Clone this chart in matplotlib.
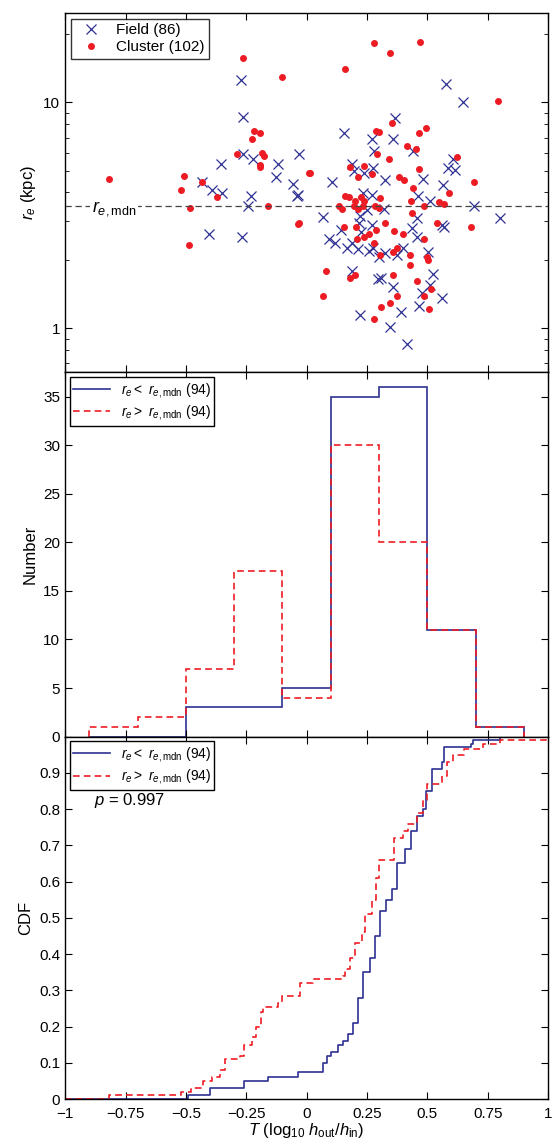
import matplotlib
matplotlib.use('Agg')
import matplotlib.pyplot as plt
import numpy as np
from matplotlib.ticker import NullFormatter

plt.rcParams['font.family'] = ['Liberation Sans', 'DejaVu Sans']
plt.rcParams['mathtext.fontset'] = 'custom'
plt.rcParams['mathtext.rm'] = 'Liberation Sans'
plt.rcParams['mathtext.it'] = 'Liberation Sans:italic'

BLUE = '#2e3192'
RED = '#ed1c24'

# ---- scatter data ----
field_T = [-0.271, -0.263, -0.263, -0.222, -0.354, -0.433, -0.391, -0.35, -0.23, -0.242, -0.404, -0.267,
           -0.118, -0.126, -0.056, -0.039, -0.031,
           0.578, 0.648, 0.366, 0.155, 0.27, 0.358, 0.28, 0.441, 0.188, 0.197, 0.238, 0.275, 0.607, 0.586,
           0.615, 0.325, 0.482, 0.106, -0.035, 0.565, 0.234, 0.271, 0.462, 0.511, 0.321, 0.25, 0.694, 0.801,
           0.068, 0.222, 0.217, 0.457, 0.271, 0.561, 0.57, 0.143, 0.437, 0.226, 0.093, 0.118, 0.188, 0.457,
           0.168, 0.213, 0.259, 0.275, 0.30, 0.325, 0.375, 0.40, 0.503, 0.524, 0.188, 0.296, 0.308, 0.358,
           0.478, 0.511, 0.561, 0.466, 0.222, 0.391, 0.346, 0.416]
field_re = [12.6, 8.6, 5.9, 5.65, 5.37, 4.47, 4.12, 3.97, 3.84, 3.47, 2.63, 2.55,
            5.37, 4.66, 4.34, 3.84, 5.9,
            12.1, 10.1, 8.5, 7.3, 6.9, 6.9, 6.1, 6.1, 5.37, 5.0, 4.9, 5.15, 5.6, 5.15,
            5.05, 4.52, 4.57, 4.43, 3.88, 4.3, 3.96, 3.88, 3.84, 3.65, 3.39, 3.33, 3.5, 3.07,
            3.1, 3.16, 2.94, 3.07, 2.86, 2.86, 2.8, 2.74, 2.77, 2.66, 2.48, 2.38, 2.4, 2.53,
            2.26, 2.24, 2.21, 2.28, 2.08, 2.15, 2.12, 2.28, 2.17, 1.75, 1.79, 1.66, 1.68, 1.53,
            1.44, 1.55, 1.36, 1.26, 1.15, 1.18, 1.02, 0.85]
cluster_T = [-0.818, -0.263, -0.10, -0.507, -0.519, -0.482, -0.486, -0.433, -0.371, -0.288, -0.217, -0.226,
             -0.193, -0.184, -0.176, -0.193, -0.193, -0.159, -0.035, 0.01,
             0.28, 0.47, 0.346, 0.159, 0.793, 0.354, 0.288, 0.30, 0.466, 0.495, 0.416, 0.453, 0.29, 0.623,
             0.342, 0.014, 0.18, 0.238, 0.213, 0.271, 0.466, 0.383, 0.404, 0.694, 0.441, 0.59, 0.159, 0.176,
             0.226, 0.304, 0.20, 0.238, 0.433, 0.549, 0.57, 0.135, 0.147, 0.197, 0.213, 0.234, 0.284, 0.30,
             0.487, 0.437, -0.031, 0.155, 0.205, 0.325, 0.288, 0.362, 0.40, 0.54, 0.681, 0.259, 0.238, 0.209,
             0.487, 0.28, 0.375, 0.358, 0.304, 0.499, 0.503, 0.429, 0.429, 0.081, 0.18, 0.20, 0.358, 0.457,
             0.515, 0.487, 0.068, 0.375, 0.308, 0.346, 0.507, 0.28]
cluster_re = [4.6, 15.8, 13, 4.75, 4.08, 3.43, 2.33, 4.43, 3.8, 5.89, 7.5, 6.9,
              7.3, 6.0, 5.8, 5.2, 5.3, 3.5, 2.9, 4.9,
              18.4, 18.6, 16.6, 14, 10.2, 8.1, 7.5, 7.4, 7.3, 7.7, 6.4, 6.2, 5.9, 5.76,
              5.6, 4.9, 5.2, 5.26, 4.66, 4.85, 5.1, 4.66, 4.52, 4.43, 4.17, 3.96, 3.84, 3.8,
              3.8, 3.76, 3.65, 3.65, 3.65, 3.63, 3.54, 3.5, 3.39, 3.47, 3.39, 3.47, 3.47, 3.43,
              3.47, 3.26, 2.92, 2.82, 2.82, 2.94, 2.74, 2.69, 2.61, 2.94, 2.8, 2.61, 2.53, 2.5,
              2.5, 2.4, 2.28, 2.17, 2.12, 2.08, 2.0, 2.12, 1.9, 1.79, 1.68, 1.73, 1.72, 1.63,
              1.5, 1.39, 1.39, 1.39, 1.25, 1.3, 1.22, 1.1]
re_mdn = 3.5

# ---- histogram ----
bin_edges = [-0.9, -0.7, -0.5, -0.3, -0.1, 0.1, 0.3, 0.5, 0.7, 0.9]
small_counts = [0, 0, 3, 3, 5, 35, 36, 11, 1]
large_counts = [1, 2, 7, 17, 4, 30, 20, 11, 1]

# ---- CDF breakpoints ----
cdf_small_T = [-1.0, -0.49, -0.40, -0.26, -0.16, -0.035, 0.068, 0.085, 0.10, 0.13, 0.15, 0.172, 0.193,
               0.213, 0.234, 0.263, 0.284, 0.304, 0.329, 0.354, 0.375, 0.408, 0.433, 0.457, 0.482,
               0.495, 0.52, 0.561, 0.57, 0.68, 0.69, 0.801, 1.0]
cdf_small = [0.0, 0.01, 0.03, 0.05, 0.06, 0.075, 0.10, 0.12, 0.13, 0.15, 0.16, 0.18, 0.21,
             0.28, 0.35, 0.39, 0.45, 0.52, 0.55, 0.58, 0.65, 0.69, 0.74, 0.78, 0.80,
             0.85, 0.91, 0.93, 0.97, 0.98, 0.99, 1.0, 1.0]
cdf_large_T = [-1.0, -0.818, -0.52, -0.48, -0.43, -0.39, -0.36, -0.34, -0.275, -0.26, -0.226, -0.21,
               -0.19, -0.18, -0.12, -0.10, -0.027, 0.027, 0.15, 0.16, 0.18, 0.20, 0.23, 0.24, 0.27,
               0.288, 0.30, 0.36, 0.40, 0.42, 0.457, 0.48, 0.50, 0.56, 0.58, 0.607, 0.65, 0.73, 0.80,
               0.99, 1.0]
cdf_large = [0.0, 0.01, 0.02, 0.03, 0.05, 0.06, 0.08, 0.11, 0.12, 0.15, 0.17, 0.20,
             0.24, 0.255, 0.265, 0.285, 0.32, 0.33, 0.34, 0.36, 0.39, 0.43, 0.46, 0.51, 0.55,
             0.61, 0.66, 0.72, 0.74, 0.76, 0.79, 0.825, 0.87, 0.89, 0.93, 0.95, 0.965, 0.98, 0.99,
             1.0, 1.0]

fig = plt.figure(figsize=(5.52, 11.42), dpi=100)
L, W = 0.118, 0.875
ax1 = fig.add_axes([L, 0.674, W, 0.315])
ax2 = fig.add_axes([L, 0.355, W, 0.319])
ax3 = fig.add_axes([L, 0.0376, W, 0.3174])

for ax in (ax1, ax2, ax3):
    ax.set_xlim(-1, 1)
    ax.set_xticks([-1, -0.75, -0.5, -0.25, 0, 0.25, 0.5, 0.75, 1])
    ax.tick_params(direction='in', top=True, right=True, labelsize=11, length=5)
    ax.tick_params(which='minor', direction='in', top=True, right=True, length=3)
    ax.tick_params(axis='x', pad=6)
    for s in ax.spines.values():
        s.set_linewidth(1.0)

leg_kw = dict(loc='upper left', fontsize=10, frameon=True, fancybox=False, edgecolor='black',
              borderaxespad=0.35, borderpad=0.25, labelspacing=0.25, handlelength=2.6, framealpha=1)

# top panel
ax1.set_yscale('log')
ax1.set_ylim(0.64, 25)
ax1.plot(field_T, field_re, 'x', color=BLUE, ms=7, mew=0.9, label='Field (86)')
ax1.plot(cluster_T, cluster_re, 'o', color=RED, ms=4, mec=RED, label='Cluster (102)')
ax1.axhline(re_mdn, color='#444444', ls=(0, (5, 3)), lw=0.9)
ax1.text(-0.89, re_mdn * 0.97, r'$r_{e,\mathrm{mdn}}$', fontsize=13, ha='left', va='center',
         bbox=dict(fc='white', ec='none', pad=1))
ax1.set_yticks([1, 10])
ax1.set_yticklabels(['1', '10'])
ax1.yaxis.set_minor_formatter(NullFormatter())
ax1.set_ylabel(r'$r_e$ (kpc)', fontsize=12)
ax1.set_xticklabels([])
ax1.legend(loc='upper left', fontsize=11, frameon=True, fancybox=False, edgecolor='black',
           borderaxespad=0.4, handletextpad=0.6, borderpad=0.3, labelspacing=0.2)

# middle panel
ax2.stairs(small_counts, bin_edges, color=BLUE, lw=1.2, label=r'$r_e <\ r_{e,\mathrm{mdn}}$ (94)')
ax2.stairs(large_counts, bin_edges, color=RED, lw=1.2, ls=(0, (4, 2.5)),
           label=r'$r_e >\ r_{e,\mathrm{mdn}}$ (94)')
ax2.set_ylim(0, 37.5)
ax2.set_yticks([0, 5, 10, 15, 20, 25, 30, 35])
ax2.set_ylabel('Number', fontsize=12)
ax2.set_xticklabels([])
ax2.legend(**leg_kw)

# bottom panel
ax3.step(cdf_small_T, cdf_small, where='post', color=BLUE, lw=1.2, label=r'$r_e <\ r_{e,\mathrm{mdn}}$ (94)')
ax3.step(cdf_large_T, cdf_large, where='post', color=RED, lw=1.2, ls=(0, (4, 2.5)),
         label=r'$r_e >\ r_{e,\mathrm{mdn}}$ (94)')
ax3.set_ylim(0, 1)
ax3.set_yticks([0, 0.1, 0.2, 0.3, 0.4, 0.5, 0.6, 0.7, 0.8, 0.9])
ax3.set_yticklabels(['0', '0.1', '0.2', '0.3', '0.4', '0.5', '0.6', '0.7', '0.8', '0.9'])
ax3.set_xticklabels(['\u22121', '\u22120.75', '\u22120.5', '\u22120.25', '0', '0.25', '0.5', '0.75', '1'])
ax3.set_ylabel('CDF', fontsize=12)
ax3.set_xlabel(r'$T$ (log$_{10}\ h_{\mathrm{out}}/h_{\mathrm{in}}$)', fontsize=12, labelpad=0)
ax3.text(-0.88, 0.81, r'$p$ = 0.997', fontsize=12)
ax3.legend(**leg_kw)

fig.savefig('out.png', dpi=100)
